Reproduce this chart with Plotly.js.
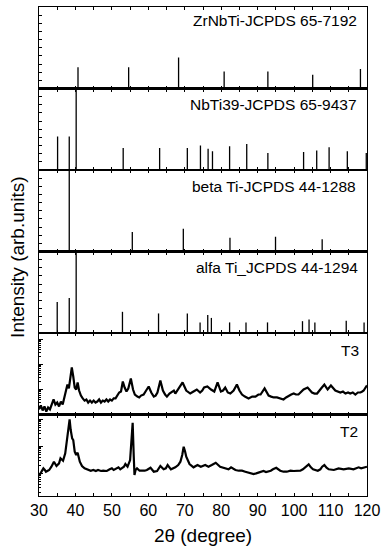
<!DOCTYPE html>
<html lang="en">
<head>
    <meta charset="UTF-8">
    <title>XRD patterns T2 / T3</title>
    <script src="https://cdn.plot.ly/plotly-3.0.1.min.js"></script>
    <style>
        body { margin: 0; background: #fff; }
        #chart { width: 384px; height: 550px; }
    </style>
</head>
<body>
    <div id="chart"></div>
    <script>
        // reference cards (stick positions in 2theta, relative intensity 0-10)
        const zrnbtiPos = [40.7, 54.6, 68.3, 80.8, 92.8, 105.1, 118.2];
        const zrnbtiInt = [2.6, 2.6, 3.8, 2.1, 2.1, 1.7, 2.4];

        const nbtiPos = [35.1, 38.3, 40.2, 53.1, 63.1, 70.7, 74.3, 76.4, 77.6, 82.3, 87.0, 92.8, 102.6, 106.2, 109.6, 114.6, 119.8];
        const nbtiInt = [4.1, 4.1, 10, 2.7, 2.7, 2.7, 3.0, 2.6, 2.3, 2.9, 3.2, 2.1, 2.2, 2.4, 2.8, 2.3, 2.1];

        const betaPos = [38.3, 55.6, 69.6, 82.4, 94.9, 107.7];
        const betaInt = [10, 2.4, 2.8, 1.7, 1.8, 1.5];

        const alfaPos = [35.0, 38.3, 40.2, 52.9, 62.8, 70.7, 74.2, 76.3, 77.3, 82.3, 86.8, 92.7, 102.3, 104.1, 105.7, 114.3, 119.2];
        const alfaInt = [3.8, 4.3, 10, 2.6, 2.4, 2.4, 1.3, 2.2, 1.85, 1.3, 1.3, 1.3, 1.45, 1.65, 1.3, 1.5, 1.3];

        // measured patterns (counts, log scale)
        const t3Angle = [30.0, 30.5, 31.0, 31.5, 32.0, 32.5, 33.0, 33.5, 34.0, 34.5, 35.0, 35.5, 36.0, 36.5, 37.0, 37.5, 37.8, 38.2, 38.6, 39.0,
            39.4, 39.8, 40.2, 40.6, 41.0, 41.5, 42.0, 42.5, 43.0, 43.5, 44.0, 44.5, 45.0, 45.5, 46.0, 46.5, 47.0, 47.5, 48.0, 48.5,
            49.0, 49.5, 50.0, 50.5, 51.0, 51.5, 52.0, 52.5, 53.0, 53.5, 54.0, 54.5, 55.2, 55.8, 56.3, 57.0, 57.5, 58.0, 58.7, 59.4,
            60.1, 60.8, 61.5, 62.0, 62.5, 63.3, 64.0, 64.6, 65.1, 65.8, 66.5, 67.0, 67.4, 68.3, 69.4, 70.4, 71.0, 71.5, 72.4, 73.3,
            74.2, 74.8, 75.3, 76.2, 77.2, 78.1, 79.0, 79.9, 80.5, 81.1, 81.8, 82.5, 83.4, 84.3, 85.0, 85.7, 86.5, 87.5, 88.5, 89.4,
            90.2, 90.8, 91.9, 93.0, 93.7, 94.4, 95.3, 96.2, 97.1, 97.8, 98.5, 99.2, 99.9, 100.5, 101.2, 102.0, 102.6, 103.7, 104.3, 104.9,
            105.6, 106.3, 107.4, 108.3, 109.2, 110.1, 111.3, 112.0, 112.7, 113.4, 114.1, 114.8, 115.4, 116.1, 116.8, 117.5, 118.2, 118.7, 119.1, 119.6, 120.0];
        const t3Counts = [16, 23, 14.5, 21, 13, 19, 16, 25, 40, 25, 30, 21, 33, 25, 52, 120, 158, 110, 275, 760,
            331, 120, 100, 191, 91, 57, 44, 36, 40, 30, 36, 30, 36, 30, 33, 40, 30, 36, 33, 40,
            33, 40, 36, 44, 44, 57, 76, 83, 209, 120, 83, 110, 275, 100, 63, 52, 48, 57, 63, 91,
            132, 76, 52, 57, 76, 229, 91, 63, 52, 69, 83, 91, 69, 110, 191, 91, 76, 69, 83, 100,
            76, 91, 120, 132, 100, 83, 191, 83, 91, 120, 76, 69, 91, 158, 91, 63, 52, 44, 52, 52,
            63, 63, 110, 57, 52, 48, 48, 44, 40, 48, 57, 63, 69, 63, 63, 83, 100, 120, 100, 76,
            69, 69, 110, 158, 100, 145, 91, 83, 76, 83, 69, 76, 69, 76, 63, 76, 76, 83, 91, 120, 145];

        const t2Angle = [30.0, 30.4, 30.8, 31.2, 31.6, 31.9, 32.4, 32.8, 33.4, 34.1, 34.8, 35.5, 35.9, 36.6, 37.2, 37.7, 38.1, 38.4, 38.7, 39.1,
            39.4, 39.8, 40.2, 40.6, 41.2, 41.8, 42.5, 43.5, 44.2, 44.9, 45.6, 46.2, 47.0, 47.6, 48.6, 49.4, 50.0, 50.5, 50.9, 51.4,
            51.8, 52.3, 52.8, 53.3, 53.7, 54.3, 55.0, 55.4, 55.7, 56.0, 56.2, 56.5, 56.9, 57.6, 58.3, 59.0, 59.6, 60.6, 61.5, 62.4,
            63.3, 64.2, 64.8, 65.3, 66.2, 67.4, 68.2, 68.8, 69.3, 69.7, 70.1, 70.4, 71.3, 72.4, 73.5, 74.4, 75.6, 76.5, 77.4, 78.5,
            79.7, 81.1, 82.0, 82.7, 83.9, 84.8, 85.7, 86.6, 87.5, 88.2, 88.9, 89.6, 90.3, 91.0, 91.6, 92.3, 93.0, 93.6, 94.2, 95.1,
            96.2, 97.1, 98.0, 99.0, 99.9, 100.8, 101.7, 102.4, 103.1, 104.0, 104.6, 105.2, 106.5, 107.2, 107.7, 108.3, 108.9, 109.5, 110.9, 112.2,
            113.6, 115.0, 116.3, 117.0, 117.7, 118.4, 119.1, 120.0];
        const t2Counts = [80, 100, 133, 153, 133, 115, 125, 133, 176, 269, 187, 235, 360, 293, 551, 1714, 5333, 10000, 4018, 1982,
            1714, 632, 477, 581, 269, 187, 153, 133, 125, 133, 122, 133, 122, 125, 122, 141, 153, 133, 141, 153,
            167, 141, 153, 176, 221, 176, 311, 1714, 7499, 413, 87, 133, 153, 125, 122, 125, 133, 161, 115, 122,
            187, 141, 153, 203, 141, 167, 203, 269, 477, 968, 632, 413, 221, 167, 203, 176, 203, 176, 203, 247,
            176, 153, 141, 167, 133, 125, 125, 115, 105, 100, 94, 100, 105, 115, 122, 112, 115, 125, 141, 161,
            125, 115, 115, 125, 122, 125, 125, 141, 176, 216, 167, 141, 125, 141, 176, 203, 161, 141, 133, 153,
            141, 153, 141, 153, 167, 153, 161, 176];

        const panelLabels = ['ZrNbTi-JCPDS 65-7192', 'NbTi39-JCPDS 65-9437', 'beta Ti-JCPDS 44-1288',
            'alfa Ti_JCPDS 44-1294', 'T3', 'T2'];

        const fontFamily = '"Liberation Sans", Arial, sans-serif';
        const n = 6;

        // axis suffix 1 = bottom panel (T2), 6 = top panel (ZrNbTi)
        function stick(pos, inten, k) {
            // one vertical segment per reflection, broken with nulls
            const xs = [], ys = [];
            pos.forEach((p, i) => {
                xs.push(p, p, null);
                ys.push(0, inten[i], null);
            });
            return {
                type: 'scatter', mode: 'lines', x: xs, y: ys,
                line: { color: '#000', width: 1.3 },
                xaxis: 'x' + k, yaxis: 'y' + k, hoverinfo: 'skip'
            };
        }
        function pattern(x, y, k) {
            return {
                type: 'scatter', mode: 'lines', x: x, y: y,
                line: { color: '#000', width: 2.2 },
                xaxis: 'x' + k, yaxis: 'y' + k, hoverinfo: 'skip'
            };
        }

        const data = [
            pattern(t2Angle, t2Counts, 1),
            pattern(t3Angle, t3Counts, 2),
            stick(alfaPos, alfaInt, 3),
            stick(betaPos, betaInt, 4),
            stick(nbtiPos, nbtiInt, 5),
            stick(zrnbtiPos, zrnbtiInt, 6)
        ];

        const layout = {
            width: 384, height: 550,
            margin: { l: 39, r: 17, t: 7, b: 54 },
            paper_bgcolor: '#fff', plot_bgcolor: '#fff',
            showlegend: false,
            font: { family: fontFamily, color: '#000', size: 15 },
            annotations: []
        };

        for (let k = 1; k <= n; k++) {
            const xa = {
                range: [30, 120], dtick: 10, tick0: 30,
                ticks: 'inside', ticklen: 3, tickwidth: 1, tickcolor: '#000',
                minor: { dtick: 5, ticks: 'inside', ticklen: 3, tickwidth: 1, tickcolor: '#000' },
                showline: true, linecolor: '#000', linewidth: 1.2, mirror: 'ticks',
                showgrid: false, zeroline: false,
                anchor: 'y' + k,
                showticklabels: k === 1,
                tickfont: { size: 16 }
            };
            if (k === 1) {
                xa.title = { text: '2θ (degree)', font: { size: 19 }, standoff: 10 };
            } else {
                xa.matches = 'x';
            }
            const ya = {
                domain: [(k - 1) / n, k / n],
                anchor: 'x' + k,
                ticks: 'inside', tickcolor: '#000', tickwidth: 1,
                showline: true, linecolor: '#000', linewidth: 1.2, mirror: true,
                showgrid: false, zeroline: false, showticklabels: false
            };
            if (k === 1) {
                Object.assign(ya, { type: 'log', range: [1.16, 4.18], dtick: 1, ticklen: 4,
                    minor: { dtick: 'D1', ticks: 'inside', ticklen: 2, tickcolor: '#000' } });
            } else if (k === 2) {
                Object.assign(ya, { type: 'log', range: [1, 4.26], dtick: 1, ticklen: 4,
                    minor: { dtick: 'D1', ticks: 'inside', ticklen: 2, tickcolor: '#000' } });
            } else {
                Object.assign(ya, { range: [0, 10], dtick: 1, ticklen: 3 });
            }
            layout[k === 1 ? 'xaxis' : 'xaxis' + k] = xa;
            layout[k === 1 ? 'yaxis' : 'yaxis' + k] = ya;
        }

        // panel labels, top right of each layer
        const labelY = [0.9734, 0.8016, 0.6339, 0.4663, 0.2975, 0.1309];
        const labelX = [0.9756, 0.9756, 0.9726, 0.9787, 0.983, 0.9787];
        panelLabels.forEach((txt, i) => {
            layout.annotations.push({
                text: txt, xref: 'paper', yref: 'paper',
                x: labelX[i], y: labelY[i], xanchor: 'right', yanchor: 'middle',
                showarrow: false, font: { size: 15.5 }
            });
        });

        // shared y title
        layout.annotations.push({
            text: 'Intensity (arb.units)', xref: 'paper', yref: 'paper',
            x: -0.064, y: 0.489, xanchor: 'center', yanchor: 'middle',
            textangle: -90, showarrow: false, font: { size: 19 }
        });

        Plotly.newPlot('chart', data, layout, { staticPlot: true });
    </script>
</body>
</html>
